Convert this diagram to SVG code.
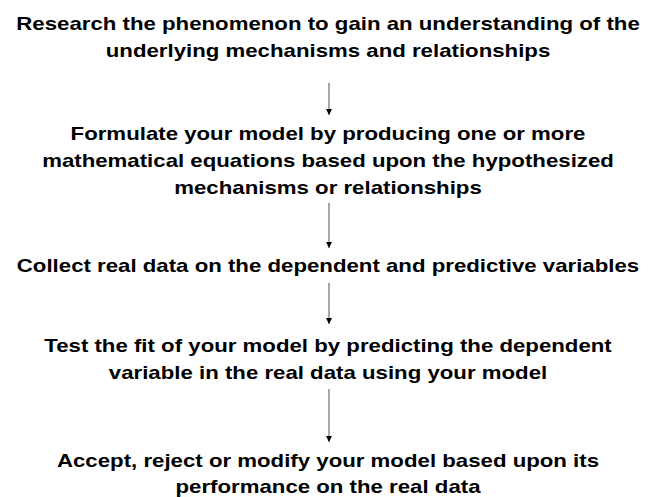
<svg xmlns="http://www.w3.org/2000/svg" width="659" height="497" viewBox="0 0 659 497">
<style>
text{font-family:"Liberation Sans",Arial,sans-serif;font-weight:bold;font-size:18px;fill:#000;text-anchor:middle}
.c{stroke:#7a7a7a;stroke-width:1.3;fill:none}
</style>
<defs>
<marker id="ah" viewBox="0 0 6 6" refX="6" refY="3" markerWidth="6" markerHeight="6" markerUnits="userSpaceOnUse" orient="auto">
<path d="M0,0 L6,3 L0,6 Z" fill="#000"/>
</marker>
</defs>
<rect width="659" height="497" fill="#fff"/>
<g id="connectors">
<line class="c" x1="329" y1="83" x2="329" y2="115" marker-end="url(#ah)"/>
<line class="c" x1="329" y1="203" x2="329" y2="248" marker-end="url(#ah)"/>
<line class="c" x1="329" y1="283" x2="329" y2="324" marker-end="url(#ah)"/>
<line class="c" x1="329" y1="389" x2="329" y2="442" marker-end="url(#ah)"/>
</g>
<g id="n1" transform="translate(328 0) scale(1.235 1)">
<text x="0" y="30">Research the phenomenon to gain an understanding of the</text>
<text x="0" y="57">underlying mechanisms and relationships</text>
</g>
<g id="n2" transform="translate(328 0) scale(1.235 1)">
<text x="0" y="140">Formulate your model by producing one or more</text>
<text x="0" y="167">mathematical equations based upon the hypothesized</text>
<text x="0" y="194">mechanisms or relationships</text>
</g>
<g id="n3" transform="translate(328 0) scale(1.235 1)">
<text x="0" y="272">Collect real data on the dependent and predictive variables</text>
</g>
<g id="n4" transform="translate(328 0) scale(1.235 1)">
<text x="0" y="352">Test the fit of your model by predicting the dependent</text>
<text x="0" y="379">variable in the real data using your model</text>
</g>
<g id="n5" transform="translate(328 0) scale(1.235 1)">
<text x="0" y="467">Accept, reject or modify your model based upon its</text>
<text x="0" y="493">performance on the real data</text>
</g>
</svg>
